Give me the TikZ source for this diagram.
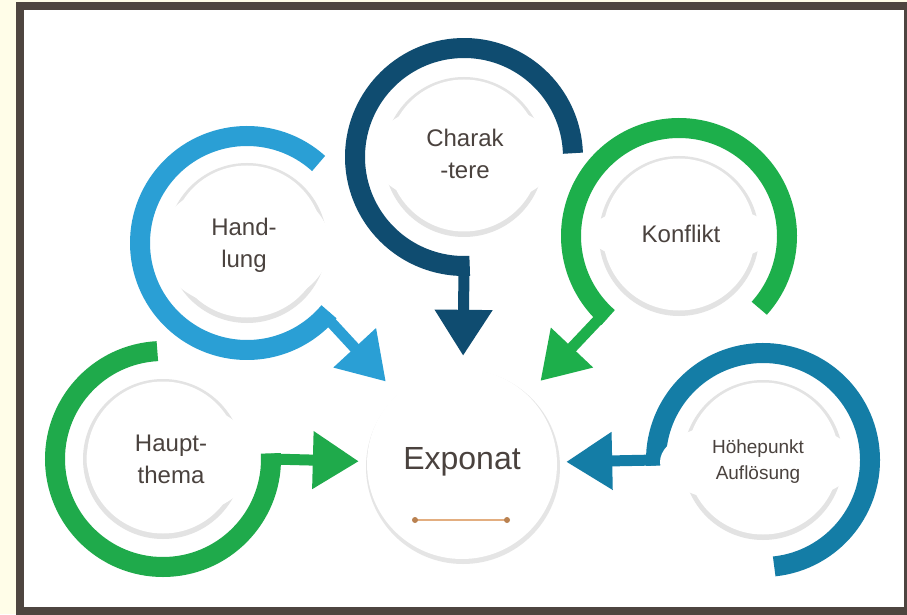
\documentclass[tikz,border=0pt]{standalone}
\usepackage{fontspec}
\setmainfont{Liberation Sans}
\usetikzlibrary{arrows.meta,shapes.geometric}
\definecolor{framecol}{HTML}{4E4540}
\definecolor{paper}{HTML}{FFFDE8}
\definecolor{txt}{HTML}{4A423E}
\definecolor{handcol}{HTML}{2A9FD5}
\definecolor{charcol}{HTML}{0F4C70}
\definecolor{konfcol}{HTML}{1DAF4B}
\definecolor{hoehcol}{HTML}{147DA6}
\definecolor{hauptcol}{HTML}{1FAA4B}
\definecolor{linecol}{HTML}{E3AE80}
\definecolor{dotcol}{HTML}{B98150}

\begin{document}
\begin{tikzpicture}[x=1pt,y=1pt,
    ring/.style={line width=20pt},
    stem/.style={line width=11pt,-{Triangle[length=46pt,width=55pt]}},
    disc/.style={fill=gray!22},
    topic/.style={ellipse,fill=white,text=txt,align=center,inner sep=0pt,
        font=\fontsize{24}{32}\selectfont}]

    \useasboundingbox (0,0) rectangle (907,614);
    \clip (0,0) rectangle (907,614);
    \fill[paper] (0,0) rectangle (907,614);
    \fill[white] (20,3) rectangle (908,608);
    \draw[framecol,line width=8pt] (20,3) rectangle (908,608);

    % centre
    \fill[gray!20] (463,147) circle (97);
    \node[circle,fill=white,minimum size=190pt,inner sep=0pt,text=txt,text depth=12pt,
          font=\fontsize{32}{38}\selectfont] (exponat) at (462,150) {Exponat};
    \draw[linecol,line width=1.2pt] ([shift={(-47,-56)}]exponat.center) -- ([shift={(45,-56)}]exponat.center);
    \fill[dotcol] ([shift={(-47,-56)}]exponat.center) circle (3)
                  ([shift={(45,-56)}]exponat.center) circle (3);

    % rings and arrows
    \draw[ring,charcol] (464,457) ++(2:109) arc (2:273:109);
    \path (464,457) ++(270:109) coordinate (char-end);
    \draw[stem,charcol,shorten >=13pt] (char-end) -- (exponat);
    \draw[ring,handcol] (247,371) ++(48:107) arc (48:320:107);
    \path (247,371) ++(317:107) coordinate (hand-end);
    \draw[stem,handcol,shorten >=17pt] (hand-end) -- (exponat);
    \draw[ring,konfcol] (679,378) ++(-42:108) arc (-42:229:108);
    \path (679,378) ++(226:108) coordinate (konf-end);
    \draw[stem,konfcol,shorten >=19pt] (konf-end) -- (exponat);
    \draw[ring,hoehcol] (763,154) ++(-84:107) arc (-84:183:107);
    \path (763,154) ++(180:107) coordinate (hoeh-end);
    \draw[stem,hoehcol,shorten >=9pt] (hoeh-end) -- (exponat);
    \draw[ring,hauptcol] (163,155) ++(93:108) arc (93:363:108);
    \path (163,155) ++(0:108) coordinate (haupt-end);
    \draw[stem,hauptcol,shorten >=8pt] (haupt-end) -- (exponat);

    % discs
    \foreach \x/\y in {464/457,247/371,679/378,763/154,163/155}{
        \fill[disc] (\x,\y) circle (80);
        \fill[white] (\x,\y+1.5) circle (76);
    }

    % topics
    \node[topic,minimum width=187pt,minimum height=106pt] (charaktere) at (465,460) {Charak\\-tere};
    \node[topic,minimum width=172pt,minimum height=127pt] (handlung) at (244,369) {Hand-\\lung};
    \node[topic,minimum width=184pt,minimum height=62pt] (konflikt) at (681,380) {Konflikt};
    \node[topic,minimum width=196pt,minimum height=85pt,font=\fontsize{19}{26}\selectfont] (hoehepunkt) at (758,152) {Höhepunkt\\Auflösung};
    \node[topic,minimum width=169pt,minimum height=115pt] (hauptthema) at (171,155) {Haupt-\\thema};
\end{tikzpicture}
\end{document}
